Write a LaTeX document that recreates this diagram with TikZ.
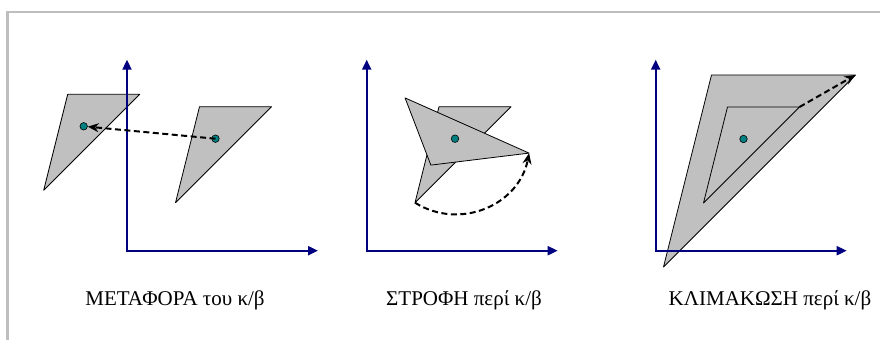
\documentclass[tikz,border=0pt]{standalone}
\usepackage{fontspec}
\setmainfont{Liberation Serif}
\usepackage{tikz}
\usetikzlibrary{arrows.meta}
\definecolor{navyblue}{RGB}{0,0,128}
\definecolor{shapegray}{RGB}{192,192,192}
\definecolor{dotteal}{RGB}{0,128,128}
\definecolor{framegray}{RGB}{190,190,190}

\begin{document}
\begin{tikzpicture}[x=1pt, y=1pt,
  frame/.style={draw=framegray, line width=2.5pt},
  axis/.style={draw=navyblue, line width=2pt,
    {Triangle[length=10pt,width=9pt]}-{Triangle[length=10pt,width=9pt]}},
  tri/.style={draw=black, fill=shapegray, line width=0.8pt, line join=round},
  dot/.style={circle, draw=black, fill=dotteal, line width=0.6pt,
    inner sep=0pt, minimum size=7.5pt},
  move/.style={-{Stealth[length=11pt,width=9pt]}, line width=2pt,
    dash pattern=on 6pt off 3.5pt},
  caption/.style={font=\fontsize{21}{25}\selectfont, anchor=base}
]
\useasboundingbox (0,0) rectangle (880,340);
\draw[frame] (7.3,0) |- (880,327.8);

% axes origins
\coordinate (o1) at (127,89.3);
\coordinate (o2) at (366.7,89.3);
\coordinate (o3) at (655.7,89.3);

% translation
\draw[tri] (67.7,245.7) -- (139.7,245.7) -- (43.7,149.7) -- cycle;
\draw[tri] (199.5,233.3) -- (271.5,233.3) -- (175.5,137.3) -- cycle;

% rotation about the centroid
\coordinate (c2) at (455,201.3);
\coordinate (v2) at (415,137.3);
\coordinate (r2) at (529.1,186.9);
\draw[tri] (439,233.3) -- (511,233.3) -- (v2) -- cycle;
\draw[tri, rotate around={111:(c2)}] (439,233.3) -- (511,233.3) -- (415,137.3) -- cycle;

% scaling about the centroid
\coordinate (c3) at (743.5,201);
\coordinate (b3) at (799.5,233);
\coordinate (B3) at (855.5,265);
\draw[tri, scale around={2:(c3)}] (727.5,233) -- (799.5,233) -- (703.5,137) -- cycle;
\draw[tri] (727.5,233) -- (b3) -- (703.5,137) -- cycle;

\foreach \o in {o1,o2,o3}
  \draw[axis] ([yshift=191pt]\o) |- ([xshift=191pt]\o);

\node[dot] (d1a) at (83.7,213.7) {};
\node[dot] (d1b) at (215.5,201.3) {};
\node[dot] (d2) at (c2) {};
\node[dot] (d3) at (c3) {};

\draw[move] (d1b.center) -- (d1a);
\draw[move] (v2) to[out=-32, in=259, looseness=1.09] (r2);
\draw[move] (b3) -- (B3);

\node[caption] (lab1) at (175,35) {ΜΕΤΑΦΟΡΑ του κ/β};
\node[caption] (lab2) at (464,35) {ΣΤΡΟΦΗ περί κ/β};
\node[caption] (lab3) at (770,35) {ΚΛΙΜΑΚΩΣΗ περί κ/β};
\end{tikzpicture}
\end{document}
